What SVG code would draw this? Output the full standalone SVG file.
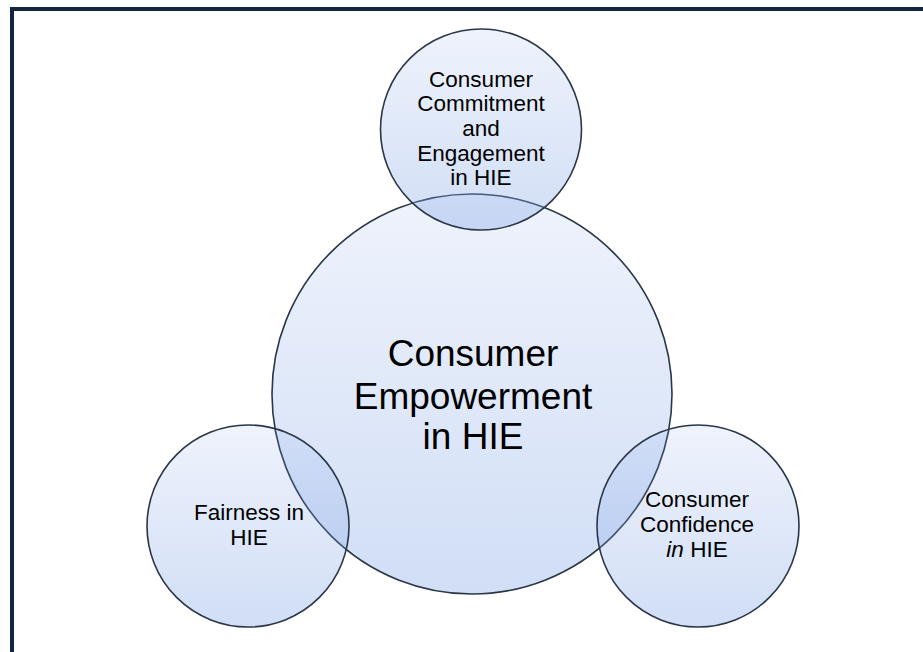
<svg xmlns="http://www.w3.org/2000/svg" width="923" height="652" viewBox="0 0 923 652">
<defs>
<linearGradient id="fillGrad" x1="0" y1="0" x2="0" y2="1">
<stop offset="0" stop-color="#7fa3e6" stop-opacity="0.13"/>
<stop offset="1" stop-color="#7fa3e6" stop-opacity="0.36"/>
</linearGradient>
<style>
.bubble{fill:url(#fillGrad);stroke:#2b3646;stroke-width:1.6}
.lbl{font-family:"Liberation Sans",Arial,sans-serif;fill:#000;text-anchor:middle}
.big{font-size:37px}
.small{font-size:22.5px}
</style>
</defs>
<rect x="0" y="0" width="923" height="652" fill="#ffffff"/>
<g id="frame" fill="#13263f">
<rect x="10" y="7" width="913" height="4"/>
<rect x="10" y="7" width="4" height="645"/>
</g>
<g id="node-empowerment">
<circle class="bubble" cx="472" cy="394" r="200"/>
<text class="lbl big" x="473" y="366">Consumer</text>
<text class="lbl big" x="473" y="409">Empowerment</text>
<text class="lbl big" x="473" y="449">in HIE</text>
</g>
<g id="node-commitment">
<circle class="bubble" cx="481" cy="129.5" r="100.5"/>
<text class="lbl small" x="481" y="87">Consumer</text>
<text class="lbl small" x="481" y="111">Commitment</text>
<text class="lbl small" x="481" y="136">and</text>
<text class="lbl small" x="481" y="161">Engagement</text>
<text class="lbl small" x="481" y="185">in HIE</text>
</g>
<g id="node-fairness">
<circle class="bubble" cx="248" cy="526" r="101"/>
<text class="lbl small" x="249" y="520">Fairness in</text>
<text class="lbl small" x="249" y="545">HIE</text>
</g>
<g id="node-confidence">
<circle class="bubble" cx="698" cy="526" r="101"/>
<text class="lbl small" x="697" y="507">Consumer</text>
<text class="lbl small" x="697" y="532">Confidence</text>
<text class="lbl small" x="697" y="557"><tspan font-style="italic">in</tspan> HIE</text>
</g>
</svg>
